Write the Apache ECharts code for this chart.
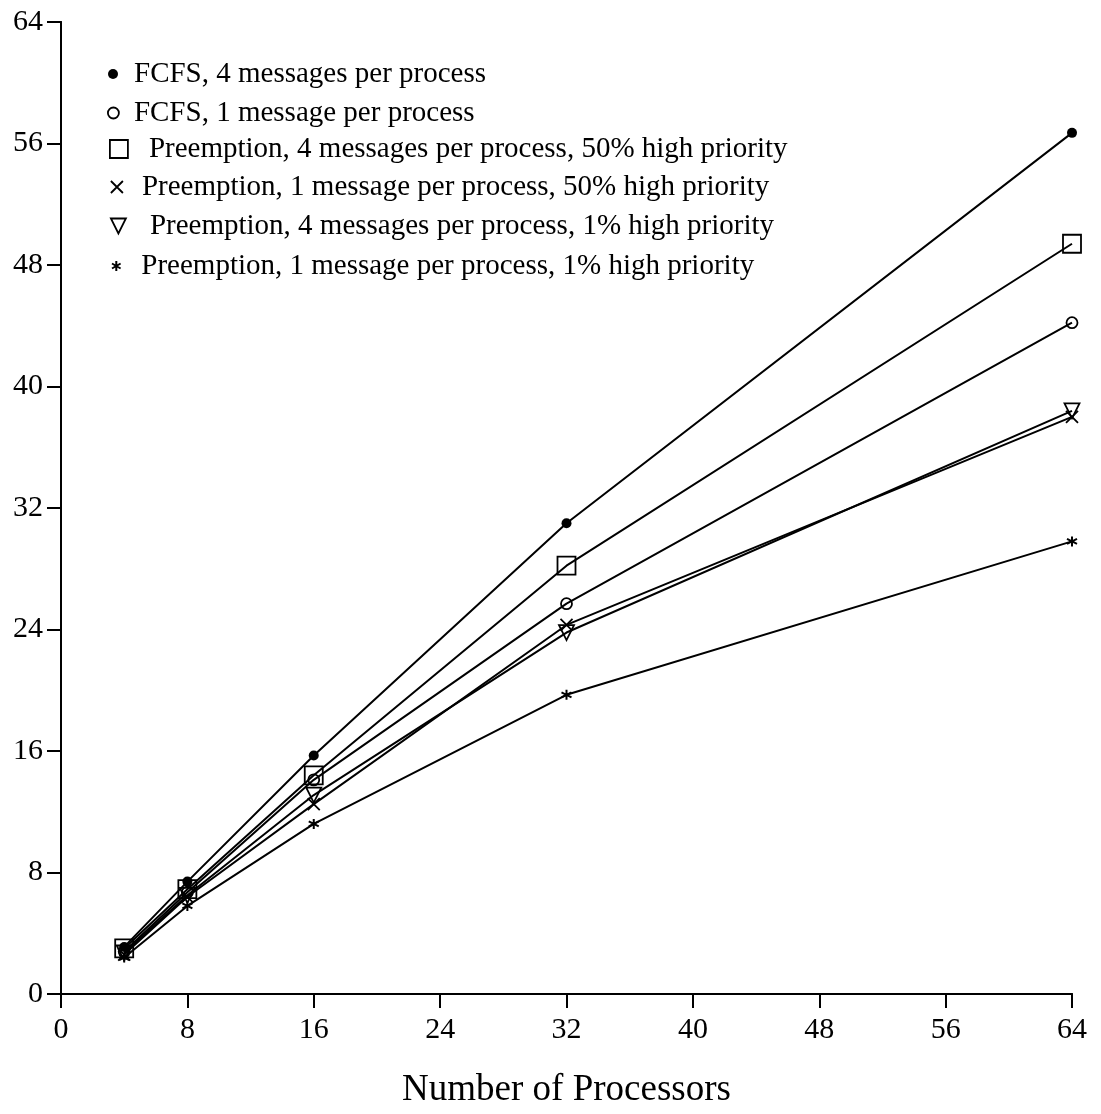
<!DOCTYPE html>
<html>
<head>
<meta charset="utf-8">
<script src="https://cdn.jsdelivr.net/npm/echarts@6/dist/echarts.min.js"></script>
<style>
html,body{margin:0;padding:0;background:#fff;}
#chart{width:1101px;height:1114px;}
</style>
</head>
<body>
<div id="chart"></div>
<script>
// ---- data ----
const processors = [4, 8, 16, 32, 64];
const fcfs4 = [3.1, 7.4, 15.7, 31.0, 56.7];
const fcfs1 = [2.8, 6.7, 14.1, 25.7, 44.2];
const pre4_50 = [3.0, 6.9, 14.4, 28.2, 49.4];
const pre1_50 = [2.6, 6.4, 12.5, 24.3, 38.0];
const pre4_1 = [2.7, 6.5, 13.1, 23.8, 38.4];
const pre1_1 = [2.4, 5.8, 11.2, 19.7, 29.8];
const seriesNames = [
  'FCFS, 4 messages per process',
  'FCFS, 1 message per process',
  'Preemption, 4 messages per process, 50% high priority',
  'Preemption, 1 message per process, 50% high priority',
  'Preemption, 4 messages per process, 1% high priority',
  'Preemption, 1 message per process, 1% high priority'
];
const axisTicks = [0, 8, 16, 24, 32, 40, 48, 56, 64];

// ---- styles ----
const FONT = 'Liberation Serif';
const crossPath = 'path://M0,0L10,10M10,0L0,10';
const triPath = 'path://M0,0L10,0L5,10Z';
const starPath = 'path://M5,0L5,10M0.7,2.5L9.3,7.5M0.7,7.5L9.3,2.5';

const styles = [
  {symbol: 'circle', size: 10, item: {color: '#000', borderColor: '#000', borderWidth: 0}},
  {symbol: 'circle', size: 11, item: {color: 'transparent', borderColor: '#000', borderWidth: 1.8}},
  {symbol: 'rect', size: 18, item: {color: 'transparent', borderColor: '#000', borderWidth: 1.8}},
  {symbol: crossPath, size: 12, item: {color: 'transparent', borderColor: '#000', borderWidth: 1.8}},
  {symbol: triPath, size: 15, item: {color: 'transparent', borderColor: '#000', borderWidth: 1.8}},
  {symbol: starPath, size: 10, item: {color: 'transparent', borderColor: '#000', borderWidth: 2}}
];
const values = [fcfs4, fcfs1, pre4_50, pre1_50, pre4_1, pre1_1];

// legend layout: [iconLeft, centerY, textPadLeft]
const legendPos = [
  [108, 74, 11],
  [107, 113, 10],
  [109, 149, 16],
  [110, 187, 14],
  [110, 226, 19],
  [111, 266, 15]
];

const series = values.map((v, i) => ({
  name: seriesNames[i],
  type: 'line',
  data: processors.map((p, j) => [p, v[j]]),
  symbol: styles[i].symbol,
  symbolSize: styles[i].size,
  showAllSymbol: true,
  lineStyle: {color: '#000', width: 2},
  itemStyle: styles[i].item,
  emphasis: {disabled: true},
  z: 2 + i
}));

const legends = seriesNames.map((n, i) => ({
  data: [{name: n, icon: styles[i].symbol, itemStyle: styles[i].item}],
  left: legendPos[i][0],
  top: legendPos[i][1] - 17,
  padding: 0,
  itemWidth: styles[i].size,
  itemHeight: styles[i].size,
  itemStyle: styles[i].item,
  selectedMode: false,
  textStyle: {fontFamily: FONT, fontSize: 29, color: '#000', padding: [0, 0, 0, legendPos[i][2]], lineHeight: 34}
}));

const axisLine = {show: true, lineStyle: {color: '#000', width: 2}};
const labelStyle = {fontFamily: FONT, fontSize: 30, color: '#000'};

const option = {
  backgroundColor: '#fff',
  animation: false,
  grid: {left: 61, right: 29, top: 22, bottom: 104},
  legend: legends,
  xAxis: [
    {
      type: 'value', position: 'bottom', min: 0, max: 64, interval: 8,
      axisLine: axisLine,
      axisTick: {show: true, inside: false, length: 14, lineStyle: {color: '#000', width: 2}},
      axisLabel: Object.assign({margin: 21, formatter: v => axisTicks.includes(v) ? String(v) : ''}, labelStyle),
      splitLine: {show: false},
      name: 'Number of Processors', nameLocation: 'middle', nameGap: 78,
      nameTextStyle: {fontFamily: FONT, fontSize: 37, color: '#000'}
    },
    {
      type: 'value', position: 'top', min: 0, max: 64, interval: 8,
      axisLine: axisLine,
      axisTick: {show: true, inside: true, length: 14, lineStyle: {color: '#000', width: 2}},
      axisLabel: {show: false},
      splitLine: {show: false}
    }
  ],
  yAxis: [
    {
      type: 'value', position: 'left', min: 0, max: 64, interval: 8,
      axisLine: axisLine,
      axisTick: {show: true, inside: false, length: 14, lineStyle: {color: '#000', width: 2}},
      axisLabel: Object.assign({margin: 18, formatter: v => axisTicks.includes(v) ? String(v) : ''}, labelStyle),
      splitLine: {show: false}
    },
    {
      type: 'value', position: 'right', min: 0, max: 64, interval: 8,
      axisLine: axisLine,
      axisTick: {show: true, inside: true, length: 13, lineStyle: {color: '#000', width: 2}},
      axisLabel: {show: false},
      splitLine: {show: false}
    }
  ],
  series: series
};

const chart = echarts.init(document.getElementById('chart'), null, {renderer: 'canvas'});
chart.setOption(option);
</script>
</body>
</html>
